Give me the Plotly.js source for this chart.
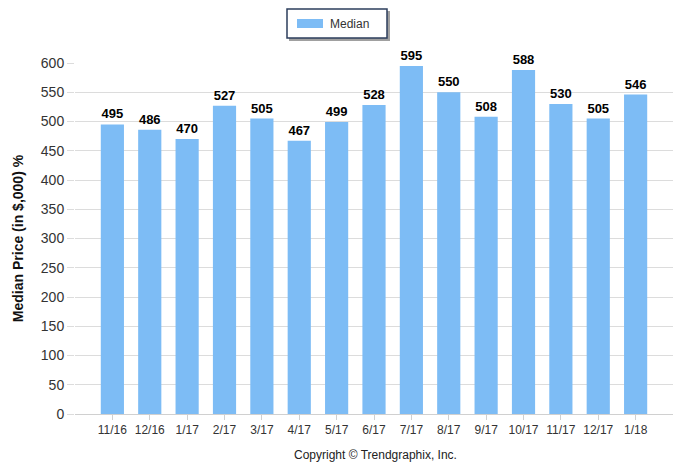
<!DOCTYPE html>
<html><head><meta charset="utf-8">
<script src="https://cdn.plot.ly/plotly-3.0.1.min.js"></script>
<style>html,body{margin:0;padding:0;background:#fff}#c{width:693px;height:469px}</style>
</head><body><div id="c"></div>
<script>
const months = ["11/16","12/16","1/17","2/17","3/17","4/17","5/17","6/17","7/17","8/17","9/17","10/17","11/17","12/17","1/18"];
const median = [495,486,470,527,505,467,499,528,595,550,508,588,530,505,546];
const yTicks = [0,50,100,150,200,250,300,350,400,450,500,550,600];
const seriesName = "Median";

const idx = months.map((m,i)=>i);
const trace = {
  type:'bar', x: idx, y: median, name: seriesName,
  marker:{color:'#7dbcf5'},
  width:0.62,
  text: median.map(String), textposition:'outside',
  textfont:{family:'Liberation Sans, Arial', size:13, color:'#000', weight:'bold'},
  cliponaxis:false, hoverinfo:'skip', showlegend:false
};
// plot area: x 75..673, y 63..414 (px)
const px = v => (v-75)/598;
const py = v => (414-v)/351;
const layout = {
  width:693, height:469,
  margin:{l:75, r:20, t:63, b:55, autoexpand:false},
  paper_bgcolor:'#fff', plot_bgcolor:'#fff',
  font:{family:'Liberation Sans, Arial', size:12, color:'#333'},
  xaxis:{
    range:[-1,15], tickvals: idx, ticktext: months,
    showgrid:false, zeroline:false,
    showline:true, linecolor:'#d0d0d0', linewidth:1,
    ticks:'outside', ticklen:5, tickcolor:'#d0d0d0',
    tickfont:{size:12, color:'#333'}, fixedrange:true
  },
  yaxis:{
    range:[0,600], tickvals:yTicks,
    showgrid:true, gridcolor:'#dcdcdc', zeroline:false,
    showline:false, ticks:'outside', ticklen:7, tickcolor:'#dcdcdc',
    tickfont:{size:14, color:'#333'},
    title:{text:'Median Price (in $,000) %', font:{size:14, color:'#111', weight:'bold'}, standoff:13},
    fixedrange:true
  },
  showlegend:false,
  shapes:[
    {type:'rect', xref:'paper', yref:'paper', x0:px(289), x1:px(390), y0:py(41), y1:py(11),
     fillcolor:'#a0a0a0', line:{width:0}, layer:'above'},
    {type:'rect', xref:'paper', yref:'paper', x0:px(287), x1:px(387), y0:py(38), y1:py(9),
     fillcolor:'#ffffff', line:{color:'#2c3e5c', width:1.5}, layer:'above'},
    {type:'rect', xref:'paper', yref:'paper', x0:px(297), x1:px(323), y0:py(28), y1:py(19),
     fillcolor:'#7dbcf5', line:{width:0}, layer:'above'}
  ],
  annotations:[
    {text: seriesName, xref:'paper', yref:'paper', x:px(328), y:py(24), xanchor:'left', yanchor:'middle',
     showarrow:false, font:{size:12, color:'#333'}},
    {text:'Copyright © Trendgraphix, Inc.', xref:'paper', yref:'paper',
     x:px(375), y:py(455), xanchor:'center', yanchor:'middle',
     showarrow:false, font:{size:12, color:'#222'}}
  ]
};
Plotly.newPlot('c',[trace],layout,{displayModeBar:false,staticPlot:true});
</script></body></html>
